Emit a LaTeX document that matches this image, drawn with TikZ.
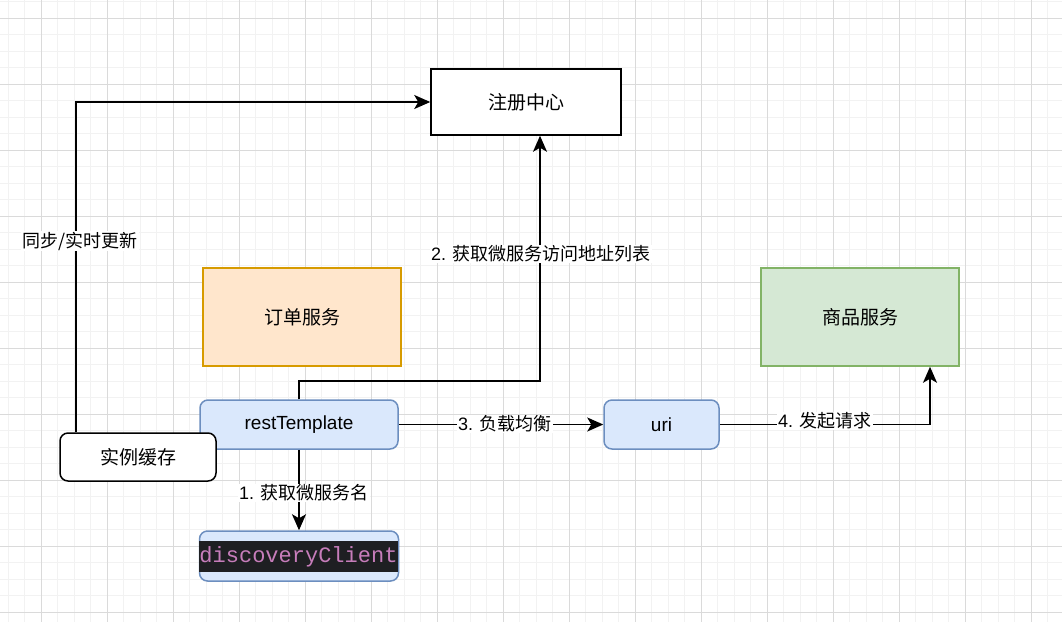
\documentclass[tikz,border=0pt]{standalone}
\usepackage{fontspec}
\setmainfont{Liberation Sans}
\setmonofont{Liberation Mono}
\newfontfamily\cjk{Noto Sans CJK SC}
\usetikzlibrary{arrows.meta,calc}
\definecolor{minorg}{HTML}{F2F2F2}
\definecolor{majorg}{HTML}{DADADA}
\definecolor{bluef}{HTML}{DAE8FC}
\definecolor{blued}{HTML}{6C8EBF}
\definecolor{orangef}{HTML}{FFE6CC}
\definecolor{oranged}{HTML}{D79B00}
\definecolor{greenf}{HTML}{D5E8D4}
\definecolor{greend}{HTML}{82B366}
\definecolor{codebg}{HTML}{1E1F22}
\definecolor{codefg}{HTML}{C77DBB}
\newcommand\zh[1]{{\cjk #1}}
\tikzset{
  minorgrid/.style={draw=minorg,line width=1pt},
  majorgrid/.style={draw=majorg,line width=1pt},
  box/.style={draw,line width=1.5pt,inner sep=0pt,font=\fontsize{19}{22}\selectfont},
  rbox/.style={box,rounded corners=8pt},
  edge/.style={draw=black,line width=1.7pt,-{Stealth[length=16pt,width=14pt,inset=4pt]}},
  lbl/.style={fill=white,inner sep=1pt,font=\fontsize{18}{21}\selectfont},
}
\begin{document}
\begin{tikzpicture}[x=1pt,y=-1pt]
\useasboundingbox (0,0) rectangle (1062,622);
\fill[white] (0,0) rectangle (1062,622);
% grid
\foreach \i in {0,...,64} {\draw[minorgrid] ({8.3+16.5*\i},0) -- ({8.3+16.5*\i},622);}
\foreach \i in {0,...,38} {\draw[minorgrid] (0,{1.5+16.5*\i}) -- (1062,{1.5+16.5*\i});}
\foreach \i in {0,...,15} {\draw[majorgrid] ({41.3+66*\i},0) -- ({41.3+66*\i},622);}
\foreach \i in {0,...,9} {\draw[majorgrid] (0,{18+66*\i}) -- (1062,{18+66*\i});}
% nodes
\node[box,fill=white,minimum width=190pt,minimum height=66pt] (reg) at (526,102) {\zh{注册中心}};
\node[box,fill=orangef,draw=oranged,minimum width=198pt,minimum height=98pt] (order) at (302,317) {\zh{订单服务}};
\node[box,fill=greenf,draw=greend,minimum width=198pt,minimum height=98pt] (goods) at (860,317) {\zh{商品服务}};
\node[rbox,fill=bluef,draw=blued,minimum width=198pt,minimum height=49pt] (rt) at (299,424.5) {restTemplate};
\node[rbox,fill=bluef,draw=blued,minimum width=115pt,minimum height=49pt] (uri) at (661.5,424.5) {uri};
\node[rbox,fill=bluef,draw=blued,minimum width=199pt,minimum height=50pt] (dc) at (299,556) {};
\node[fill=codebg,text=codefg,inner sep=0pt,minimum width=198pt,minimum height=31pt,font=\ttfamily\fontsize{22}{24}\selectfont] (dctext) at (298.5,556.5) {discoveryClient};
% edges
\draw[edge] (rt.north) -- ++(0,-18) -| ([xshift=14pt]reg.south);
\draw[edge] (rt.south) -- (dc.north);
\draw[edge] (rt.east) -- (uri.west);
\draw[edge] (uri.east) -| ([xshift=70pt]goods.south);
\node[rbox,fill=white,draw=black,minimum width=156pt,minimum height=48pt] (cache) at (138,457) {\zh{实例缓存}};
\draw[edge] ([xshift=-62pt]cache.north) |- (reg.west);
% labels
\node[lbl] (l0) at (80,241) {\zh{同步/实时更新}};
\node[lbl] (l2) at (541,254) {2. \zh{获取微服务访问地址列表}};
\node[lbl] (l1) at (304,493) {1. \zh{获取微服务名}};
\node[lbl] (l3) at (505,424) {3. \zh{负载均衡}};
\node[lbl] (l4) at (825,421) {4. \zh{发起请求}};
\end{tikzpicture}
\end{document}
